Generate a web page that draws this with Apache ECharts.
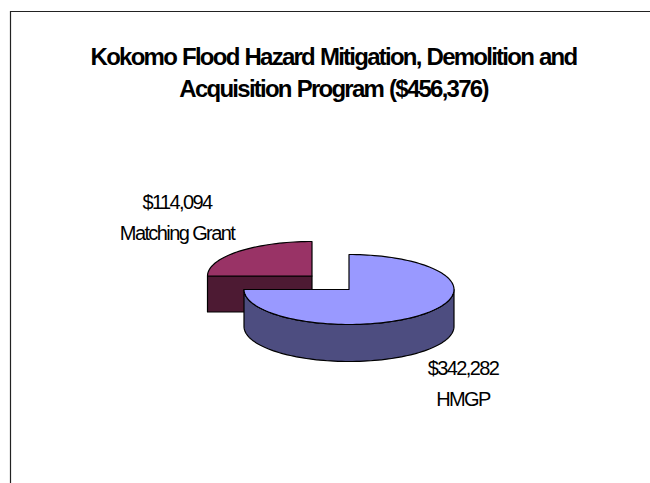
<!DOCTYPE html>
<html>
<head>
<meta charset="utf-8">
<style>
html,body{margin:0;padding:0;background:#fff;overflow:hidden}
#c{width:650px;height:483px}
svg text{letter-spacing:-1.6px}
svg text[style*="bold"]{letter-spacing:-1.75px;word-spacing:1px}
</style>
<script src="https://cdn.jsdelivr.net/npm/echarts@6/dist/echarts.min.js"></script>
</head>
<body>
<div id="c"></div>
<script>
const titleLines = ['Kokomo Flood Hazard Mitigation, Demolition and', 'Acquisition Program ($456,376)'];
const categories = ['Matching Grant', 'HMGP'];
const values = [114094, 342282];

const sliceStyles = [
  { cx: 312, cy: 276, rx: 104.5, ry: 34.5, depth: 36, top: '#993366', side: '#4D1A33', lx: 177, ly: 217 },
  { cx: 349, cy: 289.5, rx: 105, ry: 35, depth: 37, top: '#9999FF', side: '#4D4D80', lx: 463, ly: 383 }
];
const total = values.reduce((a, b) => a + b, 0);
const toAngle = v => echarts.number.linearMap(v, [0, total], [0, -360]);
const rad = d => d * Math.PI / 180;

function arc(s, from, to, dy) {
  const pts = [], n = Math.max(2, Math.ceil(Math.abs(to - from) / 2));
  for (let i = 0; i <= n; i++) {
    const t = rad(from + (to - from) * i / n);
    pts.push([s.cx + s.rx * Math.sin(t), s.cy - s.ry * Math.cos(t) + dy]);
  }
  return pts;
}

function renderItem(params, api) {
  const i = params.dataIndex, s = sliceStyles[i];
  let before = 0;
  for (let k = 0; k < i; k++) before += values[k];
  const a0 = toAngle(before + api.value(0));
  const a1 = toAngle(before);
  const mid = (a0 + a1) / 2;
  const line = { stroke: '#000', lineWidth: 1.2, lineJoin: 'round' };
  const children = [];
  const frontFrom = Math.max(a0, -270), frontTo = Math.min(a1, -90);
  if (frontTo > frontFrom) {
    const up = arc(s, frontFrom, frontTo, 0);
    const down = arc(s, frontFrom, frontTo, s.depth).reverse();
    children.push({ type: 'polygon', shape: { points: up.concat(down) }, style: { fill: s.side, ...line } });
  }
  [a0, a1].forEach(e => {
    if (Math.cos(rad(mid)) > Math.cos(rad(e)) + 1e-6) {
      const p = arc(s, e, e, 0)[0];
      children.push({
        type: 'polygon',
        shape: { points: [[s.cx, s.cy], p, [p[0], p[1] + s.depth], [s.cx, s.cy + s.depth]] },
        style: { fill: s.side, ...line }
      });
    }
  });
  children.push({
    type: 'polygon',
    shape: { points: [[s.cx, s.cy]].concat(arc(s, a0, a1, 0)) },
    style: { fill: s.top, ...line }
  });
  children.push({
    type: 'text',
    style: {
      x: s.lx, y: s.ly,
      text: '$' + api.value(0).toLocaleString('en-US') + '\n' + categories[i],
      fill: '#000', align: 'center', verticalAlign: 'middle',
      font: '20px "Liberation Sans"', lineHeight: 31
    }
  });
  return { type: 'group', children };
}

const chart = echarts.init(document.getElementById('c'), null, { renderer: 'svg', width: 650, height: 483 });
chart.setOption({
  animation: false,
  backgroundColor: '#fff',
  title: {
    text: titleLines.join('\n'),
    left: 328.5, top: 35, textAlign: 'center',
    textStyle: { fontFamily: 'Liberation Sans', fontWeight: 'bold', fontSize: 24, lineHeight: 32, color: '#000' }
  },
  graphic: [{
    type: 'rect', silent: true,
    shape: { x: 10.5, y: 11.5, width: 660, height: 500 },
    style: { fill: 'none', stroke: '#222', lineWidth: 1.2 }
  }],
  series: [{
    type: 'custom',
    coordinateSystem: 'none',
    silent: true,
    data: values.map((v, i) => ({ name: categories[i], value: [v] })),
    renderItem
  }]
});
</script>
</body>
</html>
